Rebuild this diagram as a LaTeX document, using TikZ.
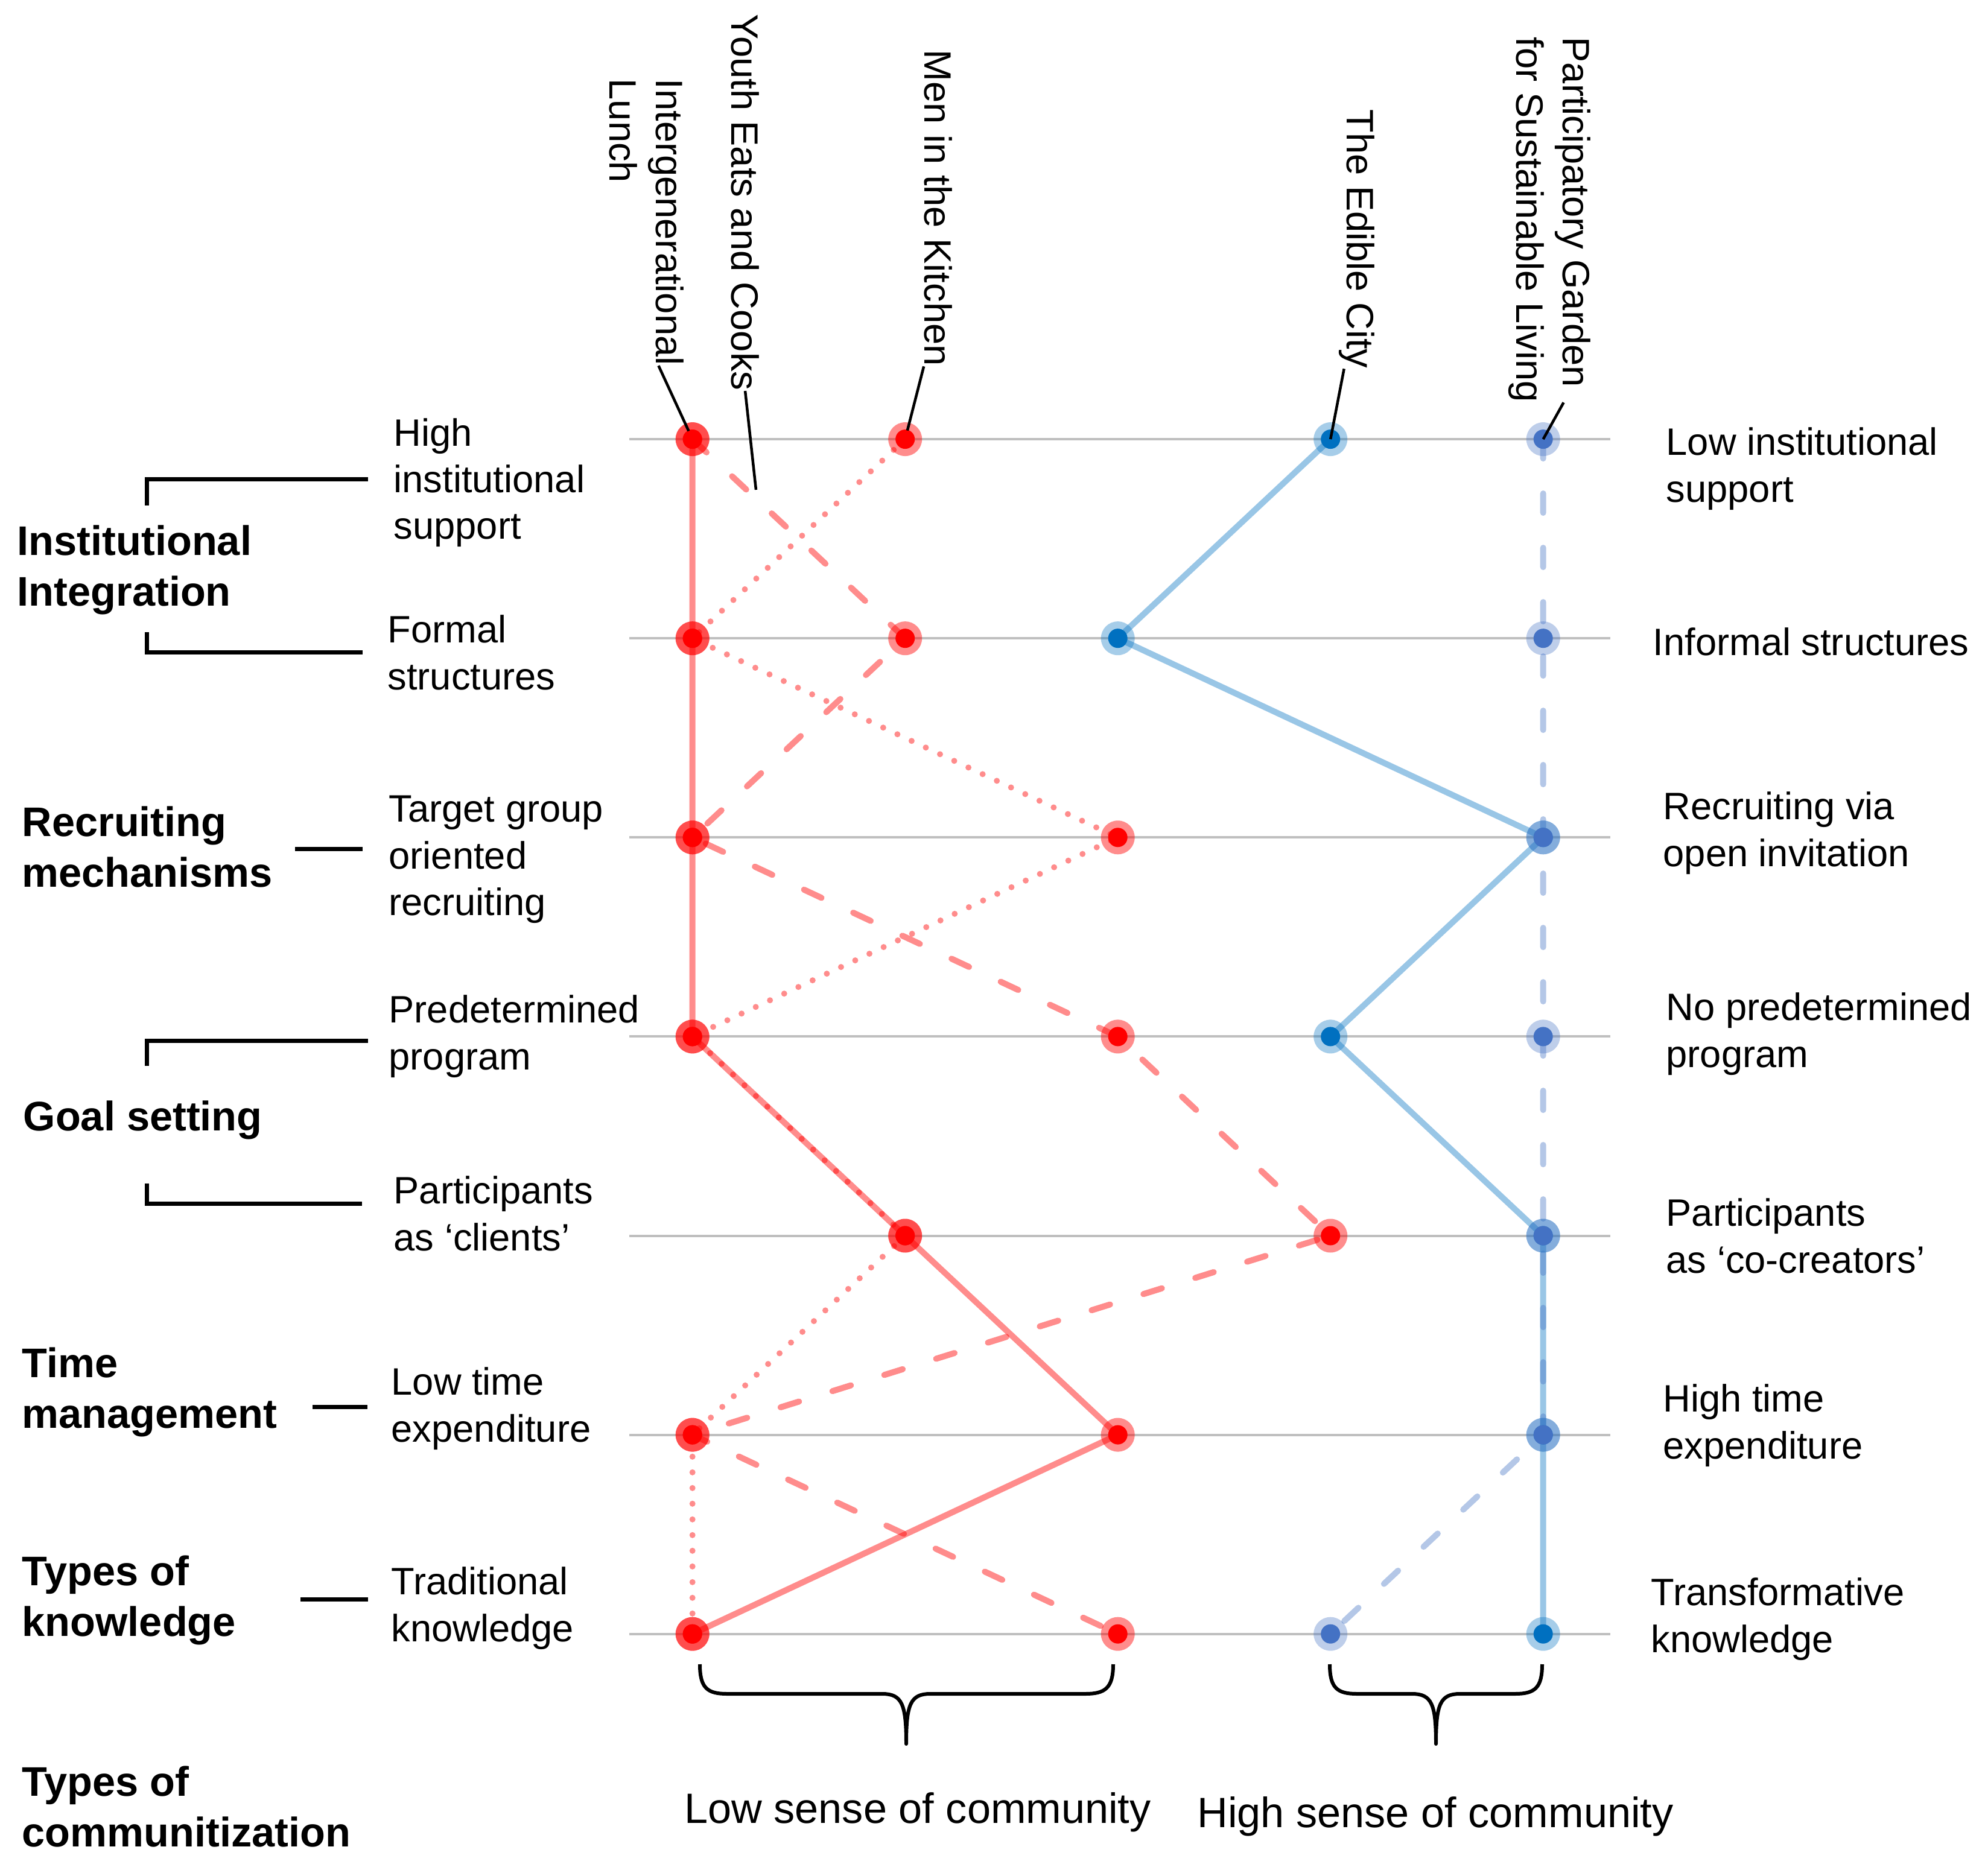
\documentclass[tikz,border=0pt]{standalone}
\usepackage{fontspec}
\setmainfont{Liberation Sans}
\usepackage{tikz}
\usetikzlibrary{calc, positioning}
\pgfdeclarelayer{bg}
\pgfsetlayers{bg,main}
\definecolor{projred}{HTML}{FF0000}
\definecolor{cityblue}{HTML}{0070C0}
\definecolor{gardenblue}{HTML}{4472C4}
\definecolor{gridgray}{HTML}{BFBFBF}
\tikzset{
  gridln/.style={draw=gridgray, line width=0.04cm},
  redln/.style={draw=projred, draw opacity=0.45, line width=0.10cm, line join=round},
  lunchln/.style={redln},
  youthln/.style={redln, line cap=round, dash pattern=on 0.32cm off 0.58cm},
  menln/.style={redln, line cap=round, dash pattern=on 0pt off 0.26cm},
  cityln/.style={draw=cityblue, draw opacity=0.4, line width=0.10cm, line join=round},
  gardenln/.style={draw=gardenblue, draw opacity=0.4, line width=0.10cm, line join=round,
    line cap=round, dash pattern=on 0.32cm off 0.58cm},
  dotbase/.style={circle, inner sep=0pt, minimum size=0.56cm},
  reddot/.style={dotbase, fill=projred, fill opacity=0.45,
    path picture={\fill[projred, fill opacity=1] (path picture bounding box.center) circle (0.16cm);}},
  citydot/.style={dotbase, fill=cityblue, fill opacity=0.35,
    path picture={\fill[cityblue, fill opacity=1] (path picture bounding box.center) circle (0.16cm);}},
  gardendot/.style={dotbase, fill=gardenblue, fill opacity=0.35,
    path picture={\fill[gardenblue, fill opacity=1] (path picture bounding box.center) circle (0.16cm);}},
  attr/.style={font=\fontsize{18}{22}\selectfont, align=left, anchor=west, inner sep=0pt},
  cat/.style={font=\fontsize{19.5}{24}\selectfont\bfseries, align=left, anchor=west, inner sep=0pt},
  proj/.style={font=\fontsize{18}{22}\selectfont, rotate=-90, align=left, anchor=north west, inner sep=0pt},
  sense/.style={font=\fontsize{20}{24}\selectfont, inner sep=0pt},
  leader/.style={draw=black, line width=0.045cm},
  bracket/.style={draw=black, line width=0.07cm},
  curly/.style={draw=black, line width=0.06cm, line join=round}
}

\begin{document}
\begin{tikzpicture}
\useasboundingbox (0,0) rectangle (32.9,-31.1);
% positions: 7 rows, 5 columns
\foreach \r in {1,...,7} {
  \coordinate (gl\r) at (10.43,{-7.281-3.301*(\r-1)});
  \coordinate (gr\r) at (26.69,{-7.281-3.301*(\r-1)});
  \foreach \c in {1,...,5}
    \coordinate (g\r\c) at ({11.477+3.525*(\c-1)},{-7.281-3.301*(\r-1)});
}
% dots per project
\foreach \c [count=\r] in {1,1,1,1,2,3,1} \node[reddot] (lu\r) at (g\r\c) {};
\foreach \c [count=\r] in {1,2,1,3,4,1,3} \node[reddot] (yo\r) at (g\r\c) {};
\foreach \c [count=\r] in {2,1,3,1,2,1,1} \node[reddot] (me\r) at (g\r\c) {};
\foreach \c [count=\r] in {4,3,5,4,5,5,5} \node[citydot] (ci\r) at (g\r\c) {};
\foreach \c [count=\r] in {5,5,5,5,5,5,4} \node[gardendot] (ga\r) at (g\r\c) {};
\begin{pgfonlayer}{bg}
\foreach \r in {1,...,7} \draw[gridln] (gl\r) -- (gr\r);
\draw[lunchln] (lu1.center) \foreach \r in {2,...,7} {-- (lu\r.center)};
\draw[youthln] (yo1.center) \foreach \r in {2,...,7} {-- (yo\r.center)};
\draw[menln] (me1.center) \foreach \r in {2,...,7} {-- (me\r.center)};
\draw[cityln] (ci1.center) \foreach \r in {2,...,7} {-- (ci\r.center)};
\draw[gardenln] (ga1.center) \foreach \r in {2,...,7} {-- (ga\r.center)};
\end{pgfonlayer}

% project names
\node[proj] (lunchLbl) at (11.34,-1.30) {Intergenerational\\Lunch};
\node[proj] (youthLbl) at (12.59,-0.23) {Youth Eats and Cooks};
\node[proj] (menLbl) at (15.79,-0.82) {Men in the Kitchen};
\node[proj] (cityLbl) at (22.79,-1.81) {The Edible City};
\node[proj] (gardenLbl) at (26.37,-0.61) {Participatory Garden\\for Sustainable Living};
\coordinate (youthTip) at (12.53,-8.12);
\draw[leader, shorten >=0.15cm] ($(lunchLbl.north east)!0.34!(lunchLbl.south east)$) -- (lu1.center);
\draw[leader] (youthLbl.east) -- (youthTip);
\draw[leader, shorten >=0.15cm] (menLbl.south east) -- (me1.center);
\draw[leader] ($(cityLbl.north east)!0.85!(cityLbl.south east)$) -- (ci1.center);
\draw[leader] ($(gardenLbl.north east)!0.33!(gardenLbl.south east)$) -- (ga1.center);

% left attributes
\node[attr] (hiSup) at (6.52,-8.00) {High\\institutional\\support};
\node[attr] (formal) at (6.42,-10.82) {Formal\\structures};
\node[attr] (target) at (6.44,-14.25) {Target group\\oriented\\recruiting};
\node[attr] (preDet) at (6.44,-17.18) {Predetermined\\program};
\node[attr] (clients) at (6.52,-20.12) {Participants\\as ‘clients’};
\node[attr] (loTime) at (6.48,-23.35) {Low time\\expenditure};
\node[attr] (trad) at (6.48,-26.66) {Traditional\\knowledge};
% right attributes
\node[attr] (loSup) at (27.61,-7.77) {Low institutional\\support};
\node[attr] (informal) at (27.39,-10.64) {Informal structures};
\node[attr] (openInv) at (27.56,-13.81) {Recruiting via\\open invitation};
\node[attr] (noPre) at (27.61,-17.14) {No predetermined\\program};
\node[attr] (coCre) at (27.61,-20.49) {Participants\\as ‘co-creators’};
\node[attr] (hiTime) at (27.56,-23.63) {High time\\expenditure};
\node[attr] (transf) at (27.36,-26.84) {Transformative\\knowledge};

% categories
\node[cat] (instInt) at (0.28,-9.45) {Institutional\\Integration};
\node[cat] (recMech) at (0.36,-14.04) {Recruiting\\mechanisms};
\node[cat] (goalSet) at (0.38,-18.57) {Goal setting};
\node[cat] (timeMgmt) at (0.36,-23.08) {Time\\management};
\node[cat] (knowType) at (0.36,-26.53) {Types of\\knowledge};
\node[cat] (commType) at (0.36,-29.95) {Types of\\communitization};
\draw[bracket] (2.43,-8.38) |- (6.10,-7.95);
\draw[bracket] (2.43,-10.48) |- (6.01,-10.82);
\draw[bracket] (4.89,-14.08) -- (6.01,-14.08);
\draw[bracket] (2.43,-17.67) |- (6.10,-17.25);
\draw[bracket] (2.43,-19.62) |- (6.00,-19.95);
\draw[bracket] (5.18,-23.32) -- (6.09,-23.32);
\draw[bracket] (4.98,-26.51) -- (6.10,-26.51);

% braces and communitization
\draw[curly] (11.60,-27.59) .. controls (11.60,-27.98) and (11.72,-28.08) .. (12.05,-28.08)
  -- (14.62,-28.08) .. controls (14.95,-28.08) and (15.02,-28.25) .. (15.02,-28.91)
  .. controls (15.02,-28.25) and (15.09,-28.08) .. (15.42,-28.08)
  -- (17.99,-28.08) .. controls (18.32,-28.08) and (18.45,-27.98) .. (18.45,-27.59);
\draw[curly] (22.04,-27.59) .. controls (22.04,-27.98) and (22.16,-28.08) .. (22.49,-28.08)
  -- (23.40,-28.08) .. controls (23.73,-28.08) and (23.80,-28.25) .. (23.80,-28.91)
  .. controls (23.80,-28.25) and (23.87,-28.08) .. (24.20,-28.08)
  -- (25.11,-28.08) .. controls (25.44,-28.08) and (25.56,-27.98) .. (25.56,-27.59);
\node[sense] (lowSense) at (15.21,-30.04) {Low sense of community};
\node[sense] (highSense) at (23.79,-30.11) {High sense of community};
\end{tikzpicture}
\end{document}
